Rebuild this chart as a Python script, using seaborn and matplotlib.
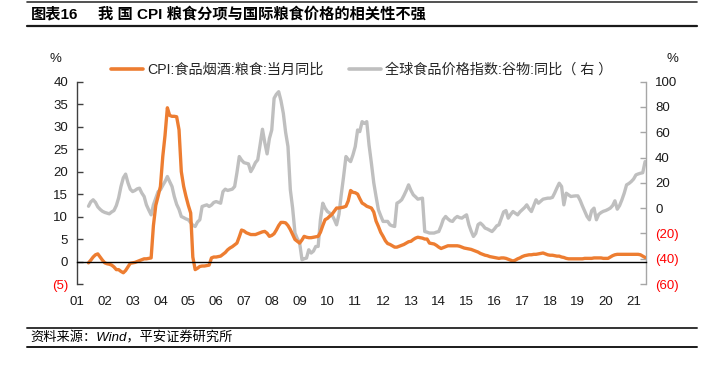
import numpy as np
import pandas as pd
import seaborn as sns
import matplotlib.pyplot as plt
import matplotlib.dates as mdates
from matplotlib.lines import Line2D

# monthly data, 2001-06 .. 2021-06
months = pd.date_range('2001-06-01', '2021-06-01', freq='MS')

# CPI: food/tobacco/liquor: grain, yoy (%), left axis
cpi_grain = [
    -0.3, 0.3, 1.0, 1.5, 1.7, 1.0, 0.3,                                   # 2001
    -0.3, -0.5, -0.6, -0.8, -1.2, -1.8, -1.8, -2.2, -2.5, -2.0, -1.2, -0.4,  # 2002
    -0.3, -0.2, 0.0, 0.2, 0.4, 0.6, 0.6, 0.7, 0.8, 8.0, 12.5, 14.5,       # 2003
    16.7, 23.4, 28.0, 34.2, 32.5, 32.3, 32.3, 32.2, 29.3, 20.0, 16.7, 14.5,  # 2004
    12.5, 10.8, 1.0, -1.8, -1.5, -1.1, -1.0, -1.0, -0.9, -0.8, 0.8, 1.0,  # 2005
    1.0, 1.1, 1.2, 1.6, 2.0, 2.6, 3.0, 3.3, 3.7, 4.1, 5.5, 7.0,           # 2006
    6.8, 6.4, 6.2, 6.0, 6.0, 6.0, 6.2, 6.4, 6.6, 6.7, 6.3, 5.6,           # 2007
    5.8, 6.2, 7.0, 8.0, 8.7, 8.7, 8.6, 8.0, 7.1, 6.0, 4.9, 4.5,           # 2008
    4.1, 4.8, 5.6, 5.4, 5.3, 5.3, 5.4, 5.5, 5.6, 6.5, 8.0, 9.3,           # 2009
    9.6, 10.1, 10.5, 11.2, 11.9, 11.9, 12.0, 12.1, 12.3, 13.5, 15.8, 15.4,  # 2010
    15.3, 15.0, 14.0, 13.0, 12.7, 12.3, 12.1, 11.9, 11.0, 9.0, 7.8, 6.5,  # 2011
    5.6, 4.6, 4.0, 3.8, 3.5, 3.2, 3.2, 3.4, 3.6, 3.8, 4.1, 4.4,           # 2012
    4.5, 4.9, 5.2, 5.4, 5.3, 5.2, 5.0, 5.0, 4.1, 4.0, 3.9, 3.6,           # 2013
    3.2, 2.9, 3.1, 3.3, 3.5, 3.5, 3.5, 3.5, 3.5, 3.4, 3.2, 3.0,           # 2014
    2.9, 2.8, 2.7, 2.5, 2.3, 2.1, 1.8, 1.6, 1.4, 1.3, 1.1, 1.0,           # 2015
    0.9, 0.8, 0.7, 0.8, 0.8, 0.7, 0.5, 0.3, 0.1, 0.3, 0.6, 0.8,           # 2016
    1.1, 1.3, 1.4, 1.5, 1.5, 1.6, 1.6, 1.7, 1.8, 1.9, 1.7, 1.5,           # 2017
    1.4, 1.4, 1.3, 1.2, 1.2, 1.0, 0.9, 0.7, 0.6, 0.6, 0.6, 0.6,           # 2018
    0.6, 0.6, 0.6, 0.7, 0.7, 0.7, 0.7, 0.8, 0.8, 0.8, 0.8, 0.7,           # 2019
    0.7, 0.7, 1.0, 1.3, 1.5, 1.6, 1.6, 1.6, 1.6, 1.6, 1.6, 1.6,           # 2020
    1.6, 1.6, 1.6, 1.5, 1.2, 0.9,                                         # 2021
]

# global food price index: cereals, yoy (%), right axis
cereal_yoy = [
    1.5, 5.0, 6.6, 4.5, 1.0, -1.0, -2.5,                                  # 2001
    -3.4, -4.0, -4.5, -3.0, -1.9, 2.0, 8.0, 17.1, 24.0, 26.9, 20.0, 15.0,  # 2002
    13.1, 14.0, 15.2, 15.8, 12.0, 9.2, 2.6, -1.5, -5.3, 2.6, 8.0, 13.0,   # 2003
    14.5, 18.0, 21.0, 25.0, 21.0, 17.1, 9.2, 3.0, -1.0, -6.6, -7.5, -8.5,  # 2004
    -9.2, -11.5, -13.5, -14.5, -11.0, -9.2, 1.3, 2.0, 2.6, 1.3, 2.5, 4.5,  # 2005
    5.2, 4.5, 3.9, 13.1, 15.0, 14.0, 14.5, 15.0, 17.1, 28.0, 40.8, 38.0,  # 2006
    36.0, 35.5, 35.0, 28.9, 32.0, 36.0, 38.2, 50.0, 62.4, 52.0, 42.9, 55.0,  # 2007
    61.8, 86.9, 90.0, 92.1, 85.0, 75.0, 60.0, 48.7, 14.5, 0.0, -19.7, -24.0,  # 2008
    -27.6, -40.8, -40.0, -39.5, -32.9, -35.5, -34.0, -30.3, -30.3, -9.2, 3.9, 0.0,  # 2009
    -2.7, -4.0, -5.3, -9.0, -13.2, -5.0, 10.5, 25.0, 40.8, 38.5, 36.8, 42.0,  # 2010
    48.7, 61.8, 60.5, 68.4, 67.0, 68.4, 50.0, 35.5, 20.0, 9.2, -1.3, -6.0,  # 2011
    -10.5, -10.5, -10.5, -13.2, -14.0, -14.5, 3.9, 5.0, 6.6, 10.0, 14.0, 18.4,  # 2012
    14.0, 10.5, 9.0, 7.1, 7.5, 7.9, -18.5, -19.0, -19.7, -19.7, -19.7, -19.0,  # 2013
    -18.5, -14.0, -9.0, -6.6, -8.5, -10.0, -10.5, -8.0, -6.6, -7.5, -7.9, -6.5,  # 2014
    -5.3, -13.2, -18.0, -22.4, -20.0, -13.0, -11.8, -13.5, -15.8, -16.5, -17.5, -18.5,  # 2015
    -16.5, -14.0, -13.2, -8.0, -3.0, -1.9, -7.9, -5.0, -2.7, -4.0, -5.3, -3.0,  # 2016
    -1.3, 0.5, 2.6, -0.5, -2.7, 2.0, 6.6, 3.9, 5.5, 7.1, 7.5, 7.9,        # 2017
    7.9, 8.5, 11.8, 16.0, 19.7, 17.1, 2.6, 11.8, 10.5, 9.2, 9.5, 9.7,     # 2018
    9.7, 6.0, 1.8, -2.5, -6.6, -9.2, -2.0, 0.0, -9.2, -5.0, -3.5, -2.5,   # 2019
    -1.9, -1.0, 0.0, 2.0, 5.8, -0.8, 2.0, 6.6, 12.0, 18.4, 19.5, 21.0,    # 2020
    23.0, 26.3, 27.0, 27.6, 28.0, 36.8,                                   # 2021
]

left_ticks = np.arange(-5, 41, 5)
right_ticks = np.arange(-60, 101, 20)

df = pd.DataFrame({'date': months, 'cpi': cpi_grain, 'cereal': cereal_yoy})

sns.set_style('white')
plt.rcParams['font.family'] = ['Liberation Sans', 'Noto Sans CJK SC', 'DejaVu Sans']
plt.rcParams['axes.unicode_minus'] = False

orange = '#ED7D31'
grey = '#BFBFBF'
red = '#FF0000'


def paren(v):
    return f'({abs(v):.0f})' if v < 0 else f'{v:.0f}'


fig = plt.figure(figsize=(7.11, 3.69), dpi=100)
ax = fig.add_axes([77 / 711, 1 - 284 / 369, 569 / 711, 202.3 / 369])
ax2 = ax.twinx()
ax.set_zorder(ax2.get_zorder() + 1)
ax.patch.set_visible(False)

sns.lineplot(data=df, x='date', y='cereal', ax=ax2, color=grey, lw=2.4, legend=False)
sns.lineplot(data=df, x='date', y='cpi', ax=ax, color=orange, lw=2.4, legend=False)

ax.set_xlim(pd.Timestamp('2001-01-01'), pd.Timestamp('2021-06-13'))
ax.set_ylim(-5, 40)
ax2.set_ylim(-60, 100)
ax.set_xlabel('')
ax.set_ylabel('')
ax2.set_ylabel('')

# spines
for s in ['top', 'right']:
    ax.spines[s].set_visible(False)
for s in ['top', 'left', 'bottom']:
    ax2.spines[s].set_visible(False)
ax.spines['bottom'].set_position(('data', 0))
ax.spines['bottom'].set_color('black')
ax.spines['bottom'].set_linewidth(1.0)
ax.spines['left'].set_color('#404040')
ax.spines['left'].set_linewidth(1.0)
ax2.spines['right'].set_color('#A6A6A6')
ax2.spines['right'].set_linewidth(1.0)

# ticks
ax.xaxis.set_major_locator(mdates.YearLocator())
ax.xaxis.set_major_formatter(mdates.DateFormatter('%y'))
ax.tick_params(axis='x', direction='in', length=4, width=1, color='black',
               labelsize=9.5, pad=24.5, labelcolor='#1a1a1a')
ax.set_yticks(left_ticks)
ax.set_yticklabels([paren(v) for v in left_ticks])
ax.tick_params(axis='y', direction='in', length=4, width=1, color='#404040',
               labelsize=9.5, pad=6.5, left=True)
for lab, v in zip(ax.get_yticklabels(), left_ticks):
    lab.set_color(red if v < 0 else '#1a1a1a')

ax2.set_yticks(right_ticks)
ax2.set_yticklabels([paren(v) for v in right_ticks])
ax2.tick_params(axis='y', direction='in', length=4, width=1, color='#A6A6A6',
                labelsize=9.5, pad=6.5, right=True)
for lab, v in zip(ax2.get_yticklabels(), right_ticks):
    lab.set_color(red if v < 0 else '#1a1a1a')

# legend
handles = [Line2D([], [], color=orange, lw=2.6), Line2D([], [], color=grey, lw=2.6)]
labels = ['CPI:食品烟酒:粮食:当月同比', '全球食品价格指数:谷物:同比（ 右 ）']
ax.legend(handles, labels, loc='center', bbox_to_anchor=(0.5, 214.5 / 202.3),
          ncol=2, frameon=False, fontsize=10.2, handlelength=2.25, handletextpad=0.3,
          columnspacing=1.8)

# unit labels
fig.text(55 / 711, 1 - 59 / 369, '%', ha='center', va='center', fontsize=9.5, color='#1a1a1a')
fig.text(672 / 711, 1 - 59 / 369, '%', ha='center', va='center', fontsize=9.5, color='#1a1a1a')

# title block
fig.add_artist(Line2D([27 / 711, 697 / 711], [1 - 2 / 369] * 2, color='#333333', lw=1.2))
fig.add_artist(Line2D([27 / 711, 697 / 711], [1 - 26 / 369] * 2, color='#1a1a1a', lw=1.6))
fig.text(31 / 711, 1 - 14.5 / 369, '图表16', ha='left', va='center', fontsize=11,
         fontweight='bold', color='black')
fig.text(98 / 711, 1 - 14.5 / 369, '我 国 CPI 粮食分项与国际粮食价格的相关性不强', ha='left',
         va='center', fontsize=11, fontweight='bold', color='black')

# source block
fig.add_artist(Line2D([27 / 711, 697 / 711], [1 - 328.3 / 369] * 2, color='#333333', lw=1.4))
fig.add_artist(Line2D([27 / 711, 697 / 711], [1 - 347.3 / 369] * 2, color='#1a1a1a', lw=1.4))
fig.text(30 / 711, 1 - 338 / 369, '资料来源：Wind，平安证券研究所', ha='left', va='center',
         fontsize=9.5, style='italic', color='black')

fig.savefig('out.png', dpi=100)
